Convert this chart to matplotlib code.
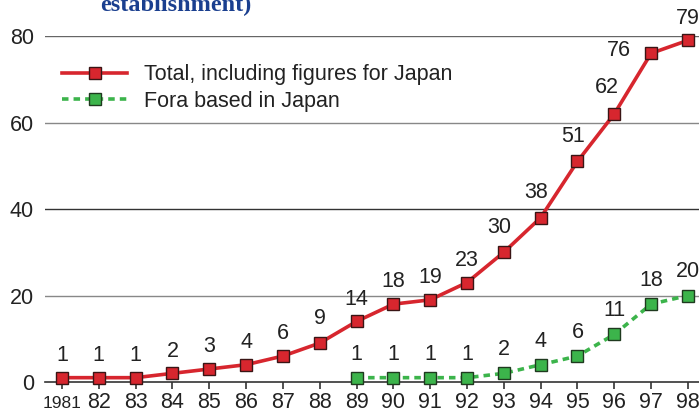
import matplotlib.pyplot as plt
import matplotlib.transforms as mtransforms

years = list(range(1981, 1999))
xlabels = [''] + [str(y)[2:] for y in years[1:]]
first_label = '1981'
total = [1, 1, 1, 2, 3, 4, 6, 9, 14, 18, 19, 23, 30, 38, 51, 62, 76, 79]
japan_years = list(range(1989, 1999))
japan = [1, 1, 1, 1, 2, 4, 6, 11, 18, 20]

red = '#d7262e'
green = '#3cb44b'
fs = 15.5
plt.rcParams['font.family'] = ['Liberation Sans', 'DejaVu Sans']

fig = plt.figure(figsize=(6.99, 4.12), dpi=100)
ax = fig.add_axes([45 / 699, 30 / 412, 654 / 699, 346 / 412])
ax.set_xlim(1980.54, 1998.30)
ax.set_ylim(0, 80)

for y, c in [(20, '#888888'), (40, '#333333'), (60, '#888888'), (80, '#666666')]:
    ax.axhline(y, color=c, lw=1.0, zorder=1)

ax.plot(years, total, color=red, lw=2.6, marker='s', ms=9, mfc=red,
        mec='#3a1515', mew=1.0, clip_on=False, zorder=3,
        label='Total, including figures for Japan')
ax.plot(japan_years, japan, color=green, lw=2.6, ls=(0, (1.8, 1.4)), marker='s', ms=9,
        mfc=green, mec='#1f3a1f', mew=1.0, clip_on=False, zorder=3,
        label='Fora based in Japan')

for x, v in zip(years, total):
    dx, dy = 0, 16
    if v == 76:
        dx, dy = -23, 2
    elif v == 62:
        dx, dy = -5, 19
    elif v in (30, 38, 51):
        dx, dy = -3, 18
    elif v == 9:
        dy = 18
    ax.annotate(str(v), (x, v), xytext=(dx, dy), textcoords='offset points',
                ha='center', va='center', fontsize=fs, color='#222222',
                annotation_clip=False)
for x, v in zip(japan_years, japan):
    ax.annotate(str(v), (x, v), xytext=(0, 17), textcoords='offset points',
                ha='center', va='center', fontsize=fs, color='#222222',
                annotation_clip=False)

for s in ['top', 'right', 'left']:
    ax.spines[s].set_visible(False)
ax.spines['bottom'].set_color('#333333')
ax.spines['bottom'].set_linewidth(1.2)

ax.set_xticks(years)
ax.set_xticklabels(xlabels)
ax.set_yticks([0, 20, 40, 60, 80])
ax.tick_params(axis='y', length=0, pad=8, labelsize=fs, labelcolor='#222222')
ax.tick_params(axis='x', length=5, width=1.2, direction='out', color='#333333',
               pad=2, labelsize=fs, labelcolor='#222222')

# narrow first year label, same baseline as the others
trans = mtransforms.blended_transform_factory(ax.transData, fig.transFigure)
ax.text(years[0], 4 / 412, first_label, transform=trans, fontsize=12.5,
        ha='center', va='baseline', color='#222222')

leg = ax.legend(loc='upper left', bbox_to_anchor=(-0.003, 0.974), frameon=False,
                fontsize=fs, handlelength=3.0, handletextpad=0.8,
                labelspacing=0.25, labelcolor='#222222')

fig.text(100 / 699, 1 - 11 / 412, 'establishment)', fontsize=17.5,
         fontweight='bold', color='#1a3f8f', family='Liberation Serif',
         va='baseline', ha='left')

fig.savefig('out.png', dpi=100)
